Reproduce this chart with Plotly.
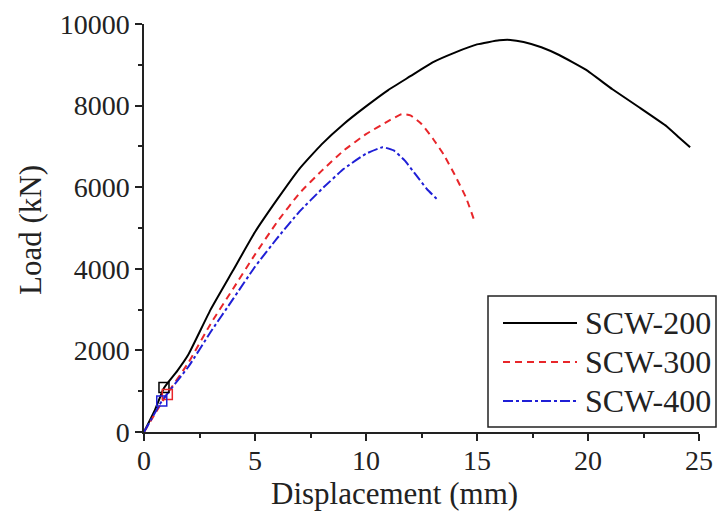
import plotly.graph_objects as go

# SCW-200
x200 = [0, 0.5, 0.9, 1.5, 2, 3, 4, 5, 6, 7, 8, 9, 10, 11, 12, 13, 14, 15, 16, 16.5, 17.1, 17.9, 18.7, 19.9, 21.1, 22.3, 23.55, 24.1, 24.6]
y200 = [0, 550, 1080, 1500, 1900, 3000, 3950, 4900, 5700, 6450, 7050, 7550, 7980, 8380, 8720, 9060, 9300, 9500, 9600, 9610, 9560, 9430, 9240, 8880, 8400, 7960, 7490, 7220, 6980]
# SCW-300
x300 = [0, 0.5, 1.0, 2, 3, 4, 5, 6, 7, 8, 9, 10, 11, 11.6, 12, 12.5, 13, 13.5, 14, 14.5, 14.9]
y300 = [0, 450, 900, 1700, 2650, 3500, 4350, 5150, 5850, 6400, 6900, 7300, 7620, 7790, 7760, 7550, 7200, 6800, 6300, 5750, 5150]
# SCW-400
x400 = [0, 0.4, 0.8, 2, 3, 4, 5, 6, 7, 8, 9, 10, 10.75, 11.25, 11.75, 12.25, 12.75, 13.25]
y400 = [0, 380, 760, 1600, 2450, 3250, 4050, 4750, 5400, 5950, 6450, 6820, 6980, 6900, 6650, 6300, 5950, 5680]

# marker points (first yield points)
mx = [0.9, 1.05, 0.8]
my = [1090, 920, 760]

names = ["SCW-200", "SCW-300", "SCW-400"]
colors = ["#000000", "#e8262a", "#1f1fd6"]
dashes = ["solid", "7px,5px", "10px,3px,3px,3px"]

xs = [x200, x300, x400]
ys = [y200, y300, y400]

FONT = "Liberation Serif"
L, R, T, B = 144, 19, 24, 86
PW = 718 - L - R
PH = 518 - T - B

fig = go.Figure()
for i in range(3):
    fig.add_trace(go.Scatter(x=xs[i], y=ys[i], mode="lines", name=names[i],
                             line=dict(color=colors[i], width=2, dash=dashes[i], shape="spline", smoothing=0.4),
                             showlegend=False))
for i in range(3):
    fig.add_trace(go.Scatter(x=[mx[i]], y=[my[i]], mode="markers",
                             marker=dict(symbol="square-open", size=10, color=colors[i], line=dict(width=1.5)),
                             showlegend=False))

# manual legend
def px2x(p):
    return (p - L) / float(PW)
def py2y(p):
    return (518 - B - p) / float(PH)

shapes = [dict(type="rect", xref="paper", yref="paper", x0=px2x(488), x1=px2x(716), y0=py2y(427), y1=py2y(296),
               line=dict(color="#222", width=1.5), fillcolor="white", layer="above")]
rows = [323, 362, 401]
annotations = []
for i in range(3):
    shapes.append(dict(type="line", xref="paper", yref="paper", x0=px2x(503), x1=px2x(577),
                       y0=py2y(rows[i]), y1=py2y(rows[i]),
                       line=dict(color=colors[i], width=2, dash=dashes[i]), layer="above"))
    annotations.append(dict(text=names[i], xref="paper", yref="paper", x=px2x(583), y=py2y(rows[i]),
                            xanchor="left", yanchor="middle", showarrow=False,
                            font=dict(family=FONT, size=32, color="#222")))

# axis titles
annotations.append(dict(text="Displacement (mm)", xref="paper", yref="paper", x=px2x(394), y=py2y(494),
                        xanchor="center", yanchor="middle", showarrow=False,
                        font=dict(family=FONT, size=31, color="#222")))
annotations.append(dict(text="Load (kN)", xref="paper", yref="paper", x=px2x(30), y=py2y(230),
                        xanchor="center", yanchor="middle", showarrow=False, textangle=-90,
                        font=dict(family=FONT, size=31, color="#222")))

fig.update_layout(
    width=718, height=518,
    margin=dict(l=L, r=R, t=T, b=B, autoexpand=False),
    paper_bgcolor="white", plot_bgcolor="white",
    font=dict(family=FONT, color="#222"),
    shapes=shapes, annotations=annotations,
    showlegend=False,
)
fig.update_xaxes(range=[0, 25], dtick=5, tick0=0, showline=True, linecolor="#222", linewidth=1.5,
                 ticks="outside", ticklen=7, tickwidth=1.5, tickcolor="#222", showgrid=False, zeroline=False,
                 automargin=False,
                 tickfont=dict(family=FONT, size=28, color="#222"), ticklabelstandoff=-4,
                 minor=dict(ticks="outside", ticklen=4, dtick=2.5, tickcolor="#222", tickwidth=1.5))
fig.update_yaxes(range=[0, 10000], dtick=2000, tick0=0, showline=True, linecolor="#222", linewidth=1.5,
                 ticks="outside", ticklen=7, tickwidth=1.5, tickcolor="#222", showgrid=False, zeroline=False,
                 tickformat="d", automargin=False,
                 tickfont=dict(family=FONT, size=28, color="#222"),
                 minor=dict(ticks="outside", ticklen=4, dtick=1000, tickcolor="#222", tickwidth=1.5))

fig.write_html("out.html")
